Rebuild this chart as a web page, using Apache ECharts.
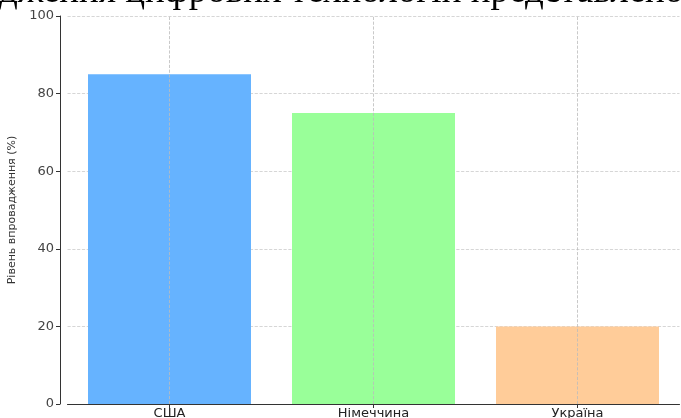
<!DOCTYPE html>
<html>
<head>
<meta charset="utf-8">
<script src="https://cdn.jsdelivr.net/npm/echarts@6/dist/echarts.min.js"></script>
<style>html,body{margin:0;padding:0;background:#fff}#c{width:681px;height:418px}</style>
</head>
<body>
<div id="c"></div>
<script>
const categories = ['США', 'Німеччина', 'Україна'];
const values = [85, 75, 20];
const barColors = ['#66b3ff', '#99ff99', '#ffcc99'];
const yTicks = [0, 20, 40, 60, 80, 100];
const titleText = 'дження цифрових технологій представлено';
const yName = 'Рівень впровадження (%)';

const chart = echarts.init(document.getElementById('c'), null, {renderer: 'canvas'});
const font = 'DejaVu Sans';
const gridLine = {color: '#ccc', type: 'dashed', width: 0.8};
chart.setOption({
  animation: false,
  backgroundColor: '#fff',
  graphic: [{
    type: 'text', x: -1, y: 11, z: 10,
    style: {text: titleText, font: '37px "Liberation Serif"', fill: '#000', verticalAlign: 'bottom'}
  }],
  grid: {left: 67.5, right: 1.5, top: 16, bottom: 14, containLabel: false, outerBoundsMode: 'none'},
  xAxis: {
    type: 'category', data: categories,
    axisLine: {lineStyle: {color: '#333', width: 1}},
    axisTick: {show: true, alignWithLabel: true, length: 4, lineStyle: {color: '#333'}},
    axisLabel: {fontFamily: font, fontSize: 13, color: '#222', margin: 3},
    splitLine: {show: false}
  },
  yAxis: {
    type: 'value', min: yTicks[0], max: yTicks[yTicks.length - 1], interval: 20, offset: 7.5,
    name: yName, nameLocation: 'middle', nameRotate: 90, nameGap: 42, nameMoveOverlap: false,
    nameTextStyle: {fontFamily: font, fontSize: 11, color: '#333', padding: [10, 0, 0, 0]},
    axisLine: {show: true, lineStyle: {color: '#333', width: 1}},
    axisTick: {show: true, length: 4, lineStyle: {color: '#333'}},
    axisLabel: {fontFamily: font, fontSize: 13, color: '#444', margin: 6},
    splitLine: {show: true, lineStyle: gridLine}
  },
  series: [{
    type: 'bar', barWidth: 163,
    data: values.map((v, i) => ({value: v, itemStyle: {color: barColors[i]}})),
    markLine: {
      silent: true, symbol: 'none', label: {show: false},
      lineStyle: {color: '#bbb', type: 'dashed', width: 0.8},
      data: categories.map(c => ({xAxis: c}))
    }
  }]
});
</script>
</body>
</html>
